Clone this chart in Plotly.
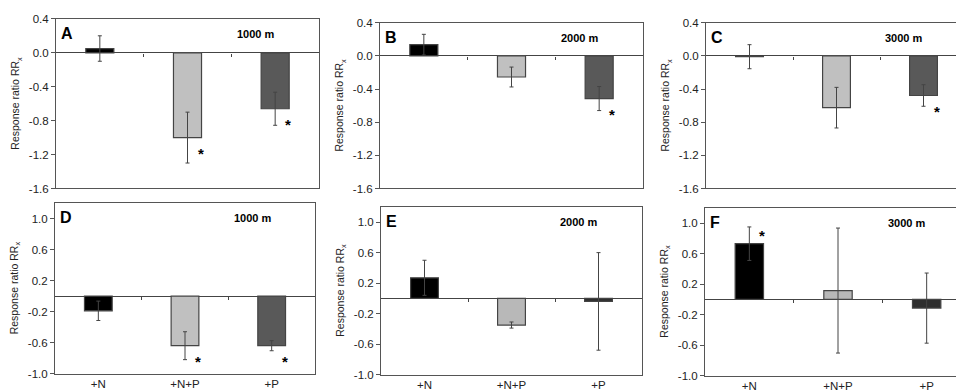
import plotly.graph_objects as go

W, H = 964, 391

categories = ["+N", "+N+P", "+P"]
panel_letters = ["A", "B", "C", "D", "E", "F"]
elevations = ["1000 m", "2000 m", "3000 m", "1000 m", "2000 m", "3000 m"]

vals_A = [0.05, -1.00, -0.66]
err_A = [0.15, 0.30, 0.195]
vals_B = [0.135, -0.255, -0.515]
err_B = [0.125, 0.12, 0.145]
vals_C = [-0.01, -0.625, -0.478]
err_C = [0.145, 0.245, 0.13]
vals_D = [-0.19, -0.64, -0.64]
err_D = [0.125, 0.18, 0.065]
vals_E = [0.27, -0.35, -0.04]
err_E = [0.23, 0.04, 0.64]
vals_F = [0.73, 0.115, -0.115]
err_F = [0.22, 0.82, 0.46]

sig_A = [False, True, True]
sig_B = [False, False, True]
sig_C = [False, False, True]
sig_D = [False, True, True]
sig_E = [False, False, False]
sig_F = [True, False, False]

top_ticks = [-1.6, -1.2, -0.8, -0.4, 0.0, 0.4]
top_ticktext = ["-1.6", "-1.2", "-0.8", "-0.4", "0.0", "0.4"]
bot_ticks = [-1.0, -0.6, -0.2, 0.2, 0.6, 1.0]
bot_ticktext = ["-1.0", "-0.6", "-0.2", "0.2", "0.6", "1.0"]
top_range = [-1.6, 0.4]
bot_range = [-1.0, 1.2]

bar_colors = ["#000000", "#c0c0c0", "#595959"]
bar_colors_dark = ["#000000", "#b8b8b8", "#2e2e2e"]

values = [vals_A, vals_B, vals_C, vals_D, vals_E, vals_F]
errors = [err_A, err_B, err_C, err_D, err_E, err_F]
sigs = [sig_A, sig_B, sig_C, sig_D, sig_E, sig_F]
panel_colors = [bar_colors, bar_colors, bar_colors, bar_colors, bar_colors_dark, bar_colors_dark]

# pixel boxes (left, right, top, bottom)
boxes = [(48, 311, 5, 180), (372, 635, 9, 180), (698, 959, 9, 180),
         (47, 307, 195, 371), (373, 634, 199, 372), (697, 963, 200, 373)]

FONT = "Liberation Sans, Arial, sans-serif"
fig = go.Figure()
layout = dict(width=W, height=H, margin=dict(l=0, r=0, t=0, b=0),
              plot_bgcolor="white", paper_bgcolor="white", showlegend=False,
              font=dict(family=FONT, size=11, color="#222"))
annotations = []
xpos = [0, 1, 2]

for k in range(6):
    l, r, t, b = boxes[k]
    xd = [l / W, r / W]
    yd = [1 - b / H, 1 - t / H]
    sfx = "" if k == 0 else str(k + 1)
    xa, ya = "x" + sfx, "y" + sfx
    top = k < 3
    yr = top_range if top else bot_range
    fig.add_trace(go.Bar(
        x=xpos, y=values[k], xaxis=xa, yaxis=ya, width=0.32,
        marker=dict(color=panel_colors[k], line=dict(color="#444", width=1.2)),
        error_y=dict(type="data", array=errors[k], color="#444", thickness=1, width=2),
    ))
    layout["xaxis" + sfx] = dict(
        domain=xd, anchor=ya, range=[-0.5, 2.5], showline=True, mirror=True,
        linecolor="#555", linewidth=1, ticks="", showgrid=False, zeroline=False,
        tickvals=xpos, ticktext=categories, showticklabels=not top,
        tickfont=dict(size=11.5, color="#222"), fixedrange=True)
    layout["yaxis" + sfx] = dict(
        domain=yd, anchor=xa, range=yr, showline=True, mirror=True,
        linecolor="#555", linewidth=1, ticks="outside", ticklen=4, tickcolor="#555",
        tickvals=top_ticks if top else bot_ticks,
        ticktext=top_ticktext if top else bot_ticktext,
        showgrid=False, zeroline=True, zerolinecolor="#444", zerolinewidth=1,
        tickfont=dict(size=11.5, color="#222"), fixedrange=True)
    # overlay axis on the zero line carrying the category boundary ticks
    zero_frac = yd[0] + (0 - yr[0]) / (yr[1] - yr[0]) * (yd[1] - yd[0])
    osfx = str(k + 7)
    layout["xaxis" + osfx] = dict(
        domain=xd, overlaying=xa, anchor="free", position=zero_frac,
        range=[-0.5, 2.5], showline=False, ticks="outside", ticklen=3,
        tickcolor="#444", tickvals=[0.5, 1.5], showticklabels=False,
        showgrid=False, zeroline=False, fixedrange=True)
    fig.add_trace(go.Scatter(x=[None], y=[None], xaxis="x" + osfx, yaxis=ya,
                             showlegend=False, hoverinfo="skip"))
    # panel letter
    annotations.append(dict(text="<b>%s</b>" % panel_letters[k], xref=xa + " domain",
                            yref=ya + " domain", x=0, y=1, xshift=3, yshift=-4,
                            xanchor="left", yanchor="top", showarrow=False,
                            font=dict(size=16, color="#000", family=FONT)))
    annotations.append(dict(text="<b>%s</b>" % elevations[k], xref=xa + " domain",
                            yref=ya + " domain", x=0.76, y=1, yshift=-7,
                            xanchor="center", yanchor="top", showarrow=False,
                            font=dict(size=11, color="#000", family=FONT)))
    annotations.append(dict(text="Response ratio RR<sub>x</sub>", xref=xa + " domain",
                            yref=ya + " domain", x=0, xshift=-40, y=0.5,
                            xanchor="center", yanchor="middle", textangle=-90,
                            showarrow=False, font=dict(size=10.5, color="#222", family=FONT)))
    for i, s in enumerate(sigs[k]):
        if s:
            v = values[k][i]
            sign = 1 if v >= 0 else -1
            annotations.append(dict(text="<b>*</b>", xref=xa, yref=ya, x=xpos[i], y=v,
                                    xshift=13, yshift=sign * 12 - 4, xanchor="center",
                                    yanchor="middle", showarrow=False,
                                    font=dict(size=15, color="#000", family=FONT)))

layout["annotations"] = annotations
fig.update_layout(**layout)
fig.write_html("out.html")
